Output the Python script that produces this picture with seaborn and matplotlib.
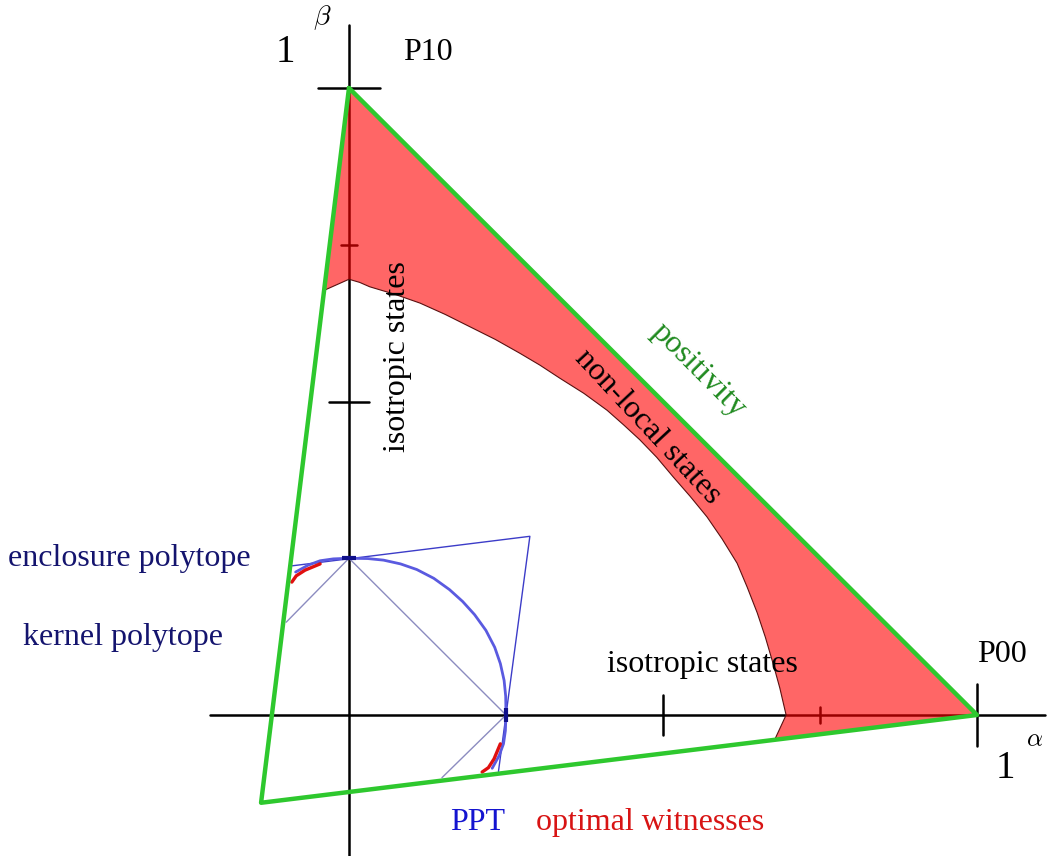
import numpy as np
import pandas as pd
import seaborn as sns
import matplotlib
matplotlib.use("Agg")
import matplotlib.pyplot as plt

# Corners of the positivity triangle (alpha, beta)
triangle_alpha = [0.0, 1.0, -0.14, 0.0]
triangle_beta = [1.0, 0.0, -0.14, 1.0]

# Boundary of the non-local states
nonlocal_alpha = [-0.038, 0.0, 0.017, 0.033, 0.073, 0.113, 0.153, 0.193, 0.233,
                  0.272, 0.304, 0.336, 0.374, 0.411, 0.437, 0.463, 0.490, 0.516,
                  0.543, 0.570, 0.594, 0.618, 0.634, 0.650, 0.663, 0.675, 0.686,
                  0.696, 0.678]
nonlocal_beta = [0.678, 0.695, 0.690, 0.683, 0.671, 0.657, 0.639, 0.619, 0.599,
                 0.577, 0.558, 0.537, 0.513, 0.486, 0.463, 0.439, 0.411, 0.380,
                 0.349, 0.316, 0.281, 0.242, 0.204, 0.163, 0.124, 0.083, 0.043,
                 0.0, -0.039]

# PPT boundary
ppt_alpha = [-0.085, -0.065, -0.046, -0.025, 0.0, 0.03, 0.055, 0.082, 0.108, 0.135,
             0.16, 0.181, 0.2, 0.218, 0.232, 0.241, 0.247, 0.2495, 0.25, 0.249,
             0.246, 0.239, 0.228]
ppt_beta = [0.228, 0.239, 0.246, 0.249, 0.25, 0.2495, 0.247, 0.241, 0.232, 0.218,
            0.2, 0.181, 0.16, 0.135, 0.108, 0.082, 0.055, 0.03, 0.0, -0.025,
            -0.046, -0.065, -0.085]

# optimal witnesses
wit_left_alpha = [-0.046, -0.07, -0.084, -0.091]
wit_left_beta = [0.241, 0.231, 0.222, 0.212]
wit_low_alpha = [0.241, 0.231, 0.222, 0.212]
wit_low_beta = [-0.046, -0.07, -0.084, -0.091]

# enclosure and kernel polytopes
enc_alpha = [-0.09, 0.288, 0.238]
enc_beta = [0.238, 0.285, -0.09]
ker_alpha = [-0.10, 0.0, 0.25, 0.148]
ker_beta = [0.148, 0.25, 0.0, -0.10]

# isotropic points on the axes
iso_points = [0.25]

# ticks on both axes
tick_vals = [0.5, 0.75, 1.0]
tick_half = [0.032, 0.013, 0.05]

sns.set_style("white")
plt.rcParams['font.family'] = ['Liberation Serif', 'DejaVu Serif']
plt.rcParams['mathtext.fontset'] = 'cm'
plt.rcParams['text.color'] = 'black'

fig = plt.figure(figsize=(10.5, 8.56), dpi=100)
ax = fig.add_axes([0, 0, 1, 1])
ax.set_xlim(-0.5557, 1.1162)
ax.set_ylim(-0.2249, 1.1404)
ax.axis("off")

# axes
ax.plot([-0.222, 1.108], [0, 0], color="black", lw=1.8, zorder=1)
ax.plot([0, 0], [-0.23, 1.10], color="black", lw=1.8, zorder=1)
for t, h in zip(tick_vals, tick_half):
    ax.plot([t, t], [-h, h], color="black", lw=1.8, zorder=1)
    ax.plot([-h, h], [t, t], color="black", lw=1.8, zorder=1)

# non-local region
reg_a = [0.0, 1.0] + nonlocal_alpha[::-1]
reg_b = [1.0, 0.0] + nonlocal_beta[::-1]
ax.fill(reg_a, reg_b, color="red", alpha=0.6, lw=0, zorder=2)
sns.lineplot(x=nonlocal_alpha, y=nonlocal_beta, sort=False, estimator=None,
             color="#5a1010", lw=0.8, ax=ax, zorder=3)

# positivity triangle
sns.lineplot(x=triangle_alpha, y=triangle_beta, sort=False, estimator=None,
             color="#2ec82e", lw=3.2, ax=ax, zorder=4)

# polytopes
sns.lineplot(x=ker_alpha, y=ker_beta, sort=False, estimator=None,
             color="#8c8cc0", lw=1.0, ax=ax, zorder=3)
sns.lineplot(x=enc_alpha, y=enc_beta, sort=False, estimator=None,
             color="#3c3cc8", lw=1.0, ax=ax, zorder=3)
sns.lineplot(x=ppt_alpha, y=ppt_beta, sort=False, estimator=None,
             color="#5a5ae0", lw=2.0, ax=ax, zorder=3)
sns.lineplot(x=wit_left_alpha, y=wit_left_beta, sort=False, estimator=None,
             color="#e01010", lw=2.4, ax=ax, zorder=3)
sns.lineplot(x=wit_low_alpha, y=wit_low_beta, sort=False, estimator=None,
             color="#e01010", lw=2.4, ax=ax, zorder=3)
for p in iso_points:
    ax.plot([0], [p], marker="_", ms=10, mew=3, color="#10108a", zorder=5)
    ax.plot([p], [0], marker="|", ms=10, mew=3, color="#10108a", zorder=5)

# labels
ax.text(-0.102, 1.057, "1", fontsize=28, ha="center", va="center")
ax.text(-0.043, 1.112, r"$\beta$", fontsize=20, ha="center", va="center")
ax.text(0.086, 1.057, "P10", fontsize=23, ha="left", va="center")
ax.text(1.0, 0.096, "P00", fontsize=23, ha="left", va="center")
ax.text(1.092, -0.04, r"$\alpha$", fontsize=18, ha="center", va="center")
ax.text(1.045, -0.085, "1", fontsize=28, ha="center", va="center")
ax.text(0.078, 0.571, "isotropic states", fontsize=23, rotation=90,
        ha="center", va="center")
ax.text(0.562, 0.08, "isotropic states", fontsize=23, ha="center", va="center")
ax.text(0.556, 0.55, "positivity", fontsize=23, color="#1f8a1f", rotation=-45,
        rotation_mode="anchor", ha="center", va="center")
ax.text(0.476, 0.459, "non-local states", fontsize=23, rotation=-47,
        rotation_mode="anchor", ha="center", va="center")
ax.text(-0.543, 0.25, "enclosure polytope", fontsize=23, color="#14146e",
        ha="left", va="center")
ax.text(-0.519, 0.123, "kernel polytope", fontsize=23, color="#14146e",
        ha="left", va="center")
ax.text(0.161, -0.172, "PPT", fontsize=23, color="#1414d0", ha="left", va="center")
ax.text(0.298, -0.172, "optimal witnesses", fontsize=23, color="#d81414",
        ha="left", va="center")

fig.savefig("out.png", dpi=100)
